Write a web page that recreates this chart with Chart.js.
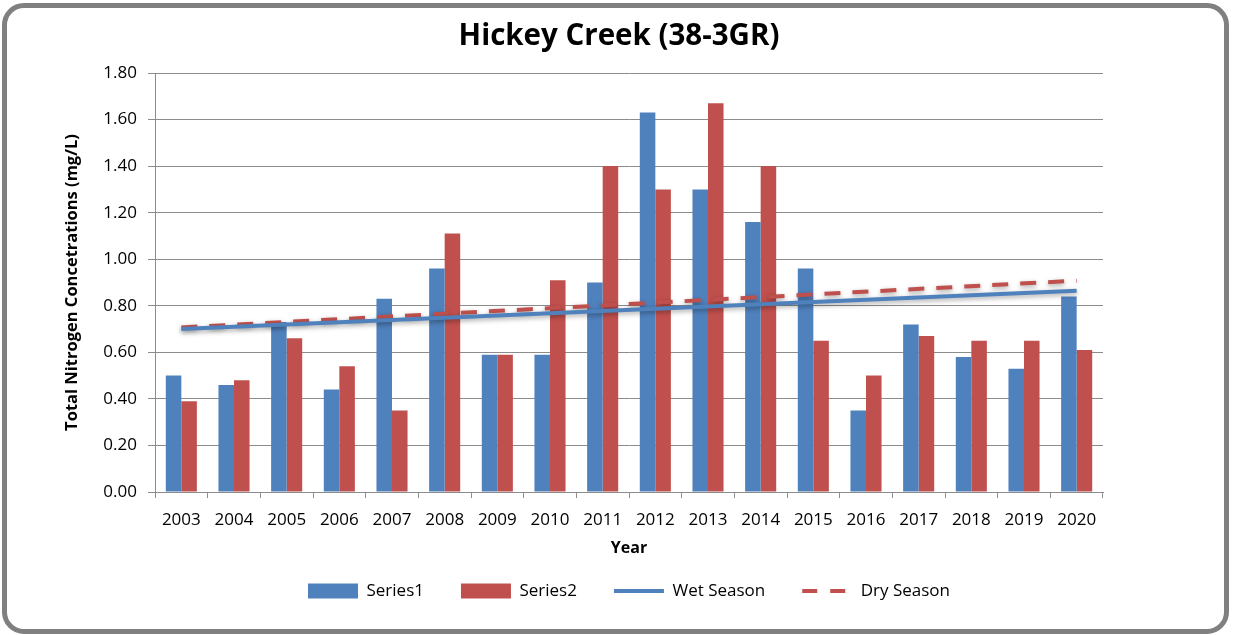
<!DOCTYPE html>
<html>
<head>
<meta charset="utf-8">
<script src="https://cdn.jsdelivr.net/npm/chart.js@4/dist/chart.umd.min.js"></script>
<style>
  body { margin: 0; background: #fff; }
  #wrap { position: relative; width: 1233px; height: 635px; }
  #frame {
    position: absolute; left: 2px; top: 3px; width: 1227px; height: 631px;
    box-sizing: border-box; border: 5px solid #808080; border-radius: 22px;
    pointer-events: none;
  }
  canvas { position: absolute; left: 0; top: 0; }
</style>
</head>
<body>
<div id="wrap">
  <canvas id="chart" width="1233" height="635"></canvas>
  <div id="frame"></div>
</div>
<script>
const years = ['2003', '2004', '2005', '2006', '2007', '2008', '2009', '2010', '2011',
               '2012', '2013', '2014', '2015', '2016', '2017', '2018', '2019', '2020'];
const series1 = [0.50, 0.46, 0.73, 0.44, 0.83, 0.96, 0.59, 0.59, 0.90,
                 1.63, 1.30, 1.16, 0.96, 0.35, 0.72, 0.58, 0.53, 0.84];
const series2 = [0.39, 0.48, 0.66, 0.54, 0.35, 1.11, 0.59, 0.91, 1.40,
                 1.30, 1.67, 1.40, 0.65, 0.50, 0.67, 0.65, 0.65, 0.61];
// trend lines: only the end points are known, the library draws the straight line between
const wetTrend = [0.70, null, null, null, null, null, null, null, null,
                  null, null, null, null, null, null, null, null, 0.865];
const dryTrend = [0.707, null, null, null, null, null, null, null, null,
                  null, null, null, null, null, null, null, null, 0.908];

const blue = '#4F81BD';
const red = '#C0504D';
const gridGray = '#8c8c8c';
const fontFamily = '"Open Sans", sans-serif';

// soft grey shadow under the trend lines
const shadowPlugin = {
  id: 'lineShadow',
  beforeDatasetDraw(chart, args) {
    if (args.meta.type !== 'line') return;
    const ctx = chart.ctx;
    ctx.save();
    ctx.shadowColor = 'rgba(0,0,0,0.35)';
    ctx.shadowBlur = 5;
    ctx.shadowOffsetY = 2;
  },
  afterDatasetDraw(chart, args) {
    if (args.meta.type !== 'line') return;
    chart.ctx.restore();
  }
};

new Chart(document.getElementById('chart').getContext('2d'), {
  data: {
    labels: years,
    datasets: [
      { type: 'bar', label: 'Series1', data: series1, backgroundColor: blue, order: 2 },
      { type: 'bar', label: 'Series2', data: series2, backgroundColor: red, order: 2 },
      { type: 'line', label: 'Wet Season', data: wetTrend, borderColor: blue, borderWidth: 4,
        pointRadius: 0, spanGaps: true, order: 0 },
      { type: 'line', label: 'Dry Season', data: dryTrend, borderColor: red, borderWidth: 4,
        borderDash: [16, 12], pointRadius: 0, spanGaps: true, order: 0 }
    ]
  },
  options: {
    responsive: false,
    animation: false,
    devicePixelRatio: 1,
    layout: { padding: { left: 58, right: 53, top: 0, bottom: 25.5 } },
    datasets: { bar: { categoryPercentage: 0.59, barPercentage: 1.0 } },
    plugins: {
      title: {
        display: true,
        text: 'Hickey Creek (38-3GR)',
        color: '#000',
        font: { family: fontFamily, size: 29.5, weight: 'bold' },
        padding: { top: 19, bottom: 18.6 }
      },
      legend: {
        position: 'bottom',
        fullSize: false,
        labels: {
          color: '#000',
          font: { family: fontFamily, size: 17 },
          usePointStyle: true,
          pointStyleWidth: 50,
          boxHeight: 15,
          padding: 37,
          generateLabels(chart) {
            return chart.data.datasets.map((ds, i) => {
              const isLine = ds.type === 'line';
              return {
                text: ds.label,
                datasetIndex: i,
                fillStyle: isLine ? 'rgba(0,0,0,0)' : ds.backgroundColor,
                strokeStyle: isLine ? ds.borderColor : 'rgba(0,0,0,0)',
                lineWidth: isLine ? 4 : 0,
                lineDash: ds.borderDash ? [15, 13, 15, 100] : [],
                pointStyle: isLine ? 'line' : 'rect',
                fontColor: '#000',
                hidden: false
              };
            });
          }
        }
      },
      tooltip: { enabled: false }
    },
    scales: {
      x: {
        afterFit(s) { s.height = 53.5; },
        grid: { display: true, drawOnChartArea: false, drawTicks: true, tickLength: 6, color: gridGray, offset: true },
        border: { display: true, color: gridGray },
        ticks: { color: '#000', padding: 12, font: { family: fontFamily, size: 17 }, maxRotation: 0 },
        title: {
          display: true, text: 'Year', color: '#000',
          font: { family: fontFamily, size: 16, weight: 'bold' },
          padding: { top: 0, bottom: -13 }
        }
      },
      y: {
        min: 0,
        max: 1.8,
        afterFit(s) { s.width = 97; },
        grid: { color: gridGray, tickLength: 7 },
        border: { display: true, color: gridGray },
        ticks: {
          stepSize: 0.2, color: '#000', padding: 11,
          font: { family: fontFamily, size: 17 },
          callback: v => Number(v).toFixed(2)
        },
        title: {
          display: true, text: 'Total Nitrogen Concetrations (mg/L)', color: '#000',
          font: { family: fontFamily, size: 16.5, weight: 'bold' },
          padding: { top: 4, bottom: 4 }
        }
      },
      // empty right-hand axis that only reserves the white space right of the plot
      yRight: {
        position: 'right',
        afterFit(s) { s.width = 77; },
        grid: { display: false, drawTicks: false },
        border: { display: false },
        ticks: { display: false }
      }
    }
  },
  plugins: [shadowPlugin]
});
</script>
</body>
</html>
